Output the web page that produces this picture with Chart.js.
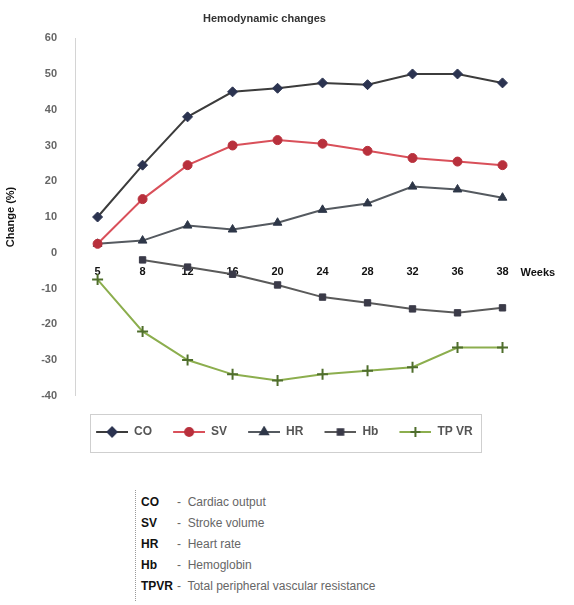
<!DOCTYPE html>
<html>
<head>
<meta charset="utf-8">
<script src="https://cdn.jsdelivr.net/npm/chart.js@4.4.0/dist/chart.umd.min.js"></script>
<style>
    html, body { margin: 0; padding: 0; background: #fff; }
    body { width: 574px; height: 605px; position: relative; overflow: hidden; font-family: "Liberation Sans", Arial, sans-serif; }
    #wrap { position: absolute; left: 0; top: 0; width: 574px; height: 470px; }
    #defs { position: absolute; left: 135px; top: 490px; border-left: 1px dotted #999; padding: 2px 0 4px 5px; }
    #defs .row { height: 21px; line-height: 21px; font-size: 12px; white-space: nowrap; }
    #defs .ab { display: inline-block; width: 36px; font-weight: bold; color: #111; }
    #defs .ds { color: #666; }
</style>
</head>
<body>
<div id="wrap"><canvas id="hemoChart"></canvas></div>
<div id="defs">
    <div class="row"><span class="ab">CO</span><span class="ds">-&nbsp; Cardiac output</span></div>
    <div class="row"><span class="ab">SV</span><span class="ds">-&nbsp; Stroke volume</span></div>
    <div class="row"><span class="ab">HR</span><span class="ds">-&nbsp; Heart rate</span></div>
    <div class="row"><span class="ab">Hb</span><span class="ds">-&nbsp; Hemoglobin</span></div>
    <div class="row"><span class="ab">TPVR</span><span class="ds">-&nbsp; Total peripheral vascular resistance</span></div>
</div>
<script>
// weeks of gestation
const weeks = ['5', '8', '12', '16', '20', '24', '28', '32', '36', '38'];

// percent change per series
const coValues   = [10, 24.5, 38, 45, 46, 47.5, 47, 50, 50, 47.5];
const svValues   = [2.5, 15, 24.5, 30, 31.5, 30.5, 28.5, 26.5, 25.5, 24.5];
const hrValues   = [2.5, 3.4, 7.6, 6.5, 8.4, 12, 13.8, 18.5, 17.7, 15.4];
const hbValues   = [null, -2, -4, -6, -9, -12.4, -14, -15.7, -16.8, -15.4];
const tpvrValues = [-7.5, -22, -30, -34, -35.7, -34, -33, -32, -26.5, -26.5];

const yTicks = [60, 50, 40, 30, 20, 10, 0, -10, -20, -30, -40];

const seriesStyle = [
    { label: 'CO',    data: coValues,   line: '#3c3c3c', mark: '#2b3350', shape: 'rectRot',  r: 5 },
    { label: 'SV',    data: svValues,   line: '#d9505a', mark: '#b8303c', shape: 'circle',   r: 4.5 },
    { label: 'HR',    data: hrValues,   line: '#555a60', mark: '#2e3748', shape: 'triangle', r: 5 },
    { label: 'Hb',    data: hbValues,   line: '#5a5a5a', mark: '#3a3a48', shape: 'rect',     r: 4.5 },
    { label: 'TP VR', data: tpvrValues, line: '#8cae4e', mark: '#4f6e2c', shape: 'cross',    r: 5.5 }
];

// small legend sample: line with the marker in the middle, left margin inside
function legendSample(s) {
    const c = document.createElement('canvas');
    c.width = 42; c.height = 12;
    const g = c.getContext('2d');
    g.strokeStyle = s.line; g.lineWidth = 2;
    g.beginPath(); g.moveTo(10, 6); g.lineTo(42, 6); g.stroke();
    g.fillStyle = s.mark; g.strokeStyle = s.mark;
    Chart.helpers.drawPoint(g, { pointStyle: s.shape, radius: s.r - 0.5, borderWidth: s.shape === 'cross' ? 2 : 1, rotation: 0 }, 26, 6);
    return c;
}

const legendFrame = {
    id: 'legendFrame',
    afterDraw(chart) {
        const boxes = chart.legend.legendHitBoxes;
        if (!boxes || !boxes.length) return;
        const l = Math.min(...boxes.map(b => b.left)) + 4;
        const r = Math.max(...boxes.map(b => b.left + b.width)) + 8;
        const t = boxes[0].top - 12;
        const h = boxes[0].height + 26;
        const ctx = chart.ctx;
        ctx.save();
        ctx.strokeStyle = '#cfcfcf'; ctx.lineWidth = 1;
        ctx.strokeRect(Math.round(l) + 0.5, Math.round(t) + 0.5, Math.round(r - l), Math.round(h));
        ctx.restore();
    }
};

const weeksLabel = {
    id: 'weeksLabel',
    afterDraw(chart) {
        const x = chart.scales.x, y = chart.scales.y;
        const ctx = chart.ctx;
        ctx.save();
        ctx.font = 'bold 11px "Liberation Sans", Arial, sans-serif';
        ctx.fillStyle = '#111';
        ctx.textBaseline = 'middle';
        ctx.fillText('Weeks', x.getPixelForValue(weeks.length - 1) + 18, y.getPixelForValue(0) + 20);
        ctx.restore();
    }
};

const datasets = seriesStyle.map(s => ({
    label: s.label,
    data: s.data,
    borderColor: s.line,
    backgroundColor: s.mark,
    borderWidth: 2,
    pointStyle: s.shape,
    pointRadius: s.r,
    pointBackgroundColor: s.mark,
    pointBorderColor: s.mark,
    pointBorderWidth: s.shape === 'cross' ? 2 : 1,
    tension: 0,
    sample: legendSample(s)
}));

new Chart(document.getElementById('hemoChart'), {
    type: 'line',
    data: { labels: weeks, datasets: datasets },
    options: {
        responsive: true,
        maintainAspectRatio: false,
        animation: false,
        layout: { padding: { left: 4, right: 49, top: 0, bottom: 22 } },
        plugins: {
            title: {
                display: true,
                text: 'Hemodynamic changes',
                color: '#333',
                font: { family: '"Liberation Sans", Arial, sans-serif', size: 11, weight: 'bold' },
                padding: { top: 12, bottom: 13 }
            },
            legend: {
                position: 'bottom',
                fullSize: false,
                align: 'start',
                title: { display: true, text: ' ', font: { size: 1 }, padding: { top: 18, bottom: 0 } },
                labels: {
                    usePointStyle: true,
                    pointStyleWidth: 42,
                    padding: 11,
                    color: '#555',
                    font: { family: '"Liberation Sans", Arial, sans-serif', size: 12, weight: 'bold' },
                    generateLabels(chart) {
                        return chart.data.datasets.map((d, i) => ({
                            text: d.label,
                            pointStyle: d.sample,
                            fontColor: '#555',
                            lineWidth: 0,
                            strokeStyle: 'transparent',
                            fillStyle: 'transparent',
                            datasetIndex: i,
                            hidden: false
                        }));
                    }
                }
            },
            tooltip: { enabled: false }
        },
        scales: {
            x: {
                position: { y: 0 },
                offset: true,
                grid: { display: false },
                border: { display: false },
                ticks: {
                    color: '#111',
                    padding: 5,
                    maxRotation: 0,
                    font: { family: '"Liberation Sans", Arial, sans-serif', size: 11, weight: 'bold' }
                }
            },
            y: {
                min: -40,
                max: 60,
                grid: { display: false },
                border: { display: true, color: '#d4d4d4', width: 1 },
                afterBuildTicks(scale) { scale.ticks = yTicks.map(v => ({ value: v })); },
                ticks: {
                    color: '#666',
                    padding: 10,
                    font: { family: '"Liberation Sans", Arial, sans-serif', size: 11, weight: 'bold' }
                },
                title: {
                    display: true,
                    text: 'Change (%)',
                    color: '#111',
                    padding: { top: 0, bottom: 14 },
                    font: { family: '"Liberation Sans", Arial, sans-serif', size: 11, weight: 'bold' }
                }
            }
        }
    },
    plugins: [legendFrame, weeksLabel]
});
</script>
</body>
</html>
